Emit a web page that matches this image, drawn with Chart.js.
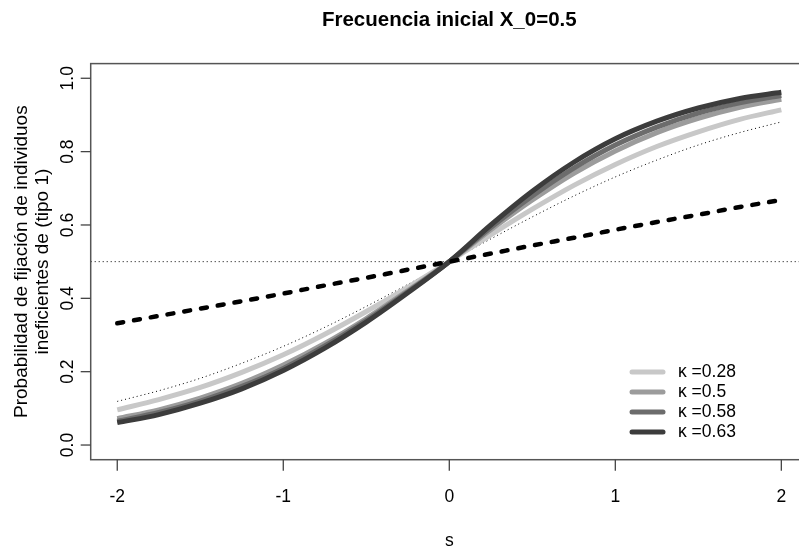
<!DOCTYPE html>
<html>
<head>
<meta charset="utf-8">
<script src="https://cdn.jsdelivr.net/npm/chart.js@4"></script>
<style>
  html, body { margin: 0; padding: 0; background: #fff; overflow: hidden; }
  #wrap { width: 810px; height: 556px; position: relative; }
</style>
</head>
<body>
<div id="wrap"><canvas id="c" width="810" height="556"></canvas></div>
<script>
// ---- data ----
const chartTitle = "Frecuencia inicial X_0=0.5";
const xTitle = "s";
const yTitleLines = ["Probabilidad de fijación de individuos", "ineficientes de (tipo 1)"];
const xTicks = [-2, -1, 0, 1, 2];
const yTicks = [0.0, 0.2, 0.4, 0.6, 0.8, 1.0];
const yTickLabels = ["0.0", "0.2", "0.4", "0.6", "0.8", "1.0"];

const sValues = [-2, -1.75, -1.5, -1.25, -1, -0.75, -0.5, -0.25, 0, 0.25, 0.5, 0.75, 1, 1.25, 1.5, 1.75, 2];

const kappaLabels = ["κ =0.28", "κ =0.5", "κ =0.58", "κ =0.63"];
const kappa028 = [0.096, 0.124, 0.157, 0.198, 0.246, 0.302, 0.364, 0.430, 0.5, 0.573, 0.643, 0.708, 0.765, 0.814, 0.854, 0.888, 0.914];
const kappa050 = [0.072, 0.096, 0.128, 0.168, 0.218, 0.277, 0.345, 0.421, 0.5, 0.587, 0.668, 0.741, 0.802, 0.852, 0.891, 0.921, 0.943];
const kappa058 = [0.065, 0.089, 0.120, 0.160, 0.209, 0.270, 0.340, 0.418, 0.5, 0.593, 0.679, 0.755, 0.818, 0.867, 0.905, 0.933, 0.953];
const kappa063 = [0.061, 0.083, 0.114, 0.153, 0.203, 0.264, 0.335, 0.415, 0.5, 0.600, 0.692, 0.771, 0.835, 0.883, 0.919, 0.945, 0.962];
const dottedCurve = [0.119, 0.148, 0.182, 0.223, 0.269, 0.321, 0.378, 0.438, 0.5, 0.562, 0.622, 0.679, 0.731, 0.777, 0.818, 0.852, 0.881];
const dashedCurve = [0.332, 0.352, 0.372, 0.392, 0.413, 0.435, 0.456, 0.478, 0.5, 0.522, 0.544, 0.565, 0.587, 0.608, 0.628, 0.649, 0.668];
const hLineX = [-2.16, 2.16];
const hLineY = [0.5, 0.5];

const kappaColors = ["#c8c8c8", "#9c9c9c", "#6c6c6c", "#3c3c3c"];

// ---- helpers ----
const pts = (xs, ys) => xs.map((x, i) => ({ x: x, y: ys[i] }));

const kappaSeries = [kappa028, kappa050, kappa058, kappa063];
const datasets = [];
kappaSeries.forEach((vals, i) => {
  datasets.push({
    label: kappaLabels[i],
    data: pts(sValues, vals),
    borderColor: kappaColors[i],
    borderWidth: 5,
    pointRadius: 0,
    cubicInterpolationMode: 'monotone',
    borderCapStyle: 'butt',
    order: 4 - i
  });
});
datasets.push({
  label: "dotted",
  data: pts(sValues, dottedCurve),
  borderColor: "#000",
  borderWidth: 1,
  borderDash: [1, 3],
  pointRadius: 0,
  cubicInterpolationMode: 'monotone',
  order: 6
});
datasets.push({
  label: "dashed",
  data: pts(sValues, dashedCurve),
  borderColor: "#000",
  borderWidth: 4.5,
  borderDash: [6, 11],
  borderCapStyle: 'round',
  pointRadius: 0,
  cubicInterpolationMode: 'monotone',
  order: 0
});
datasets.push({
  label: "hline",
  data: pts(hLineX, hLineY),
  borderColor: "#000",
  borderWidth: 1,
  borderDash: [1, 3],
  pointRadius: 0,
  order: 7
});

const FONT = '"Liberation Sans", Arial, Helvetica, sans-serif';

const rAxes = {
  id: 'rAxes',
  afterDraw(chart) {
    const ctx = chart.ctx;
    const a = chart.chartArea;
    const xs = chart.scales.x, ys = chart.scales.y;
    ctx.save();
    // box
    ctx.strokeStyle = "#555";
    ctx.lineWidth = 1.5;
    ctx.strokeRect(a.left, a.top, a.right - a.left, a.bottom - a.top);
    // x axis ticks
    ctx.strokeStyle = "#444";
    ctx.lineWidth = 1.3;
    ctx.fillStyle = "#000";
    ctx.font = "17.5px " + FONT;
    ctx.textAlign = "center";
    ctx.textBaseline = "middle";
    xTicks.forEach(v => {
      const px = xs.getPixelForValue(v);
      ctx.beginPath();
      ctx.moveTo(px, a.bottom);
      ctx.lineTo(px, a.bottom + 11);
      ctx.stroke();
      ctx.fillText(String(v), px, a.bottom + 37);
    });
    // y axis ticks
    yTicks.forEach((v, i) => {
      const py = ys.getPixelForValue(v);
      ctx.beginPath();
      ctx.moveTo(a.left, py);
      ctx.lineTo(a.left - 10, py);
      ctx.stroke();
      ctx.save();
      ctx.translate(a.left - 23, py);
      ctx.rotate(-Math.PI / 2);
      ctx.fillText(yTickLabels[i], 0, 0);
      ctx.restore();
    });
    // axis titles
    ctx.fillText(xTitle, xs.getPixelForValue(0), 541);
    ctx.font = "19px " + FONT;
    const yc = (a.top + a.bottom) / 2;
    [22, 43].forEach((px, i) => {
      ctx.save();
      ctx.translate(px, yc);
      ctx.rotate(-Math.PI / 2);
      ctx.fillText(yTitleLines[i], 0, 0);
      ctx.restore();
    });
    // title
    ctx.font = 'bold 20.5px ' + FONT;
    ctx.fillText(chartTitle, xs.getPixelForValue(0), 20);
    // legend
    ctx.font = "17.5px " + FONT;
    ctx.textAlign = "left";
    const rows = [372, 392, 412, 432];
    rows.forEach((ry, i) => {
      ctx.strokeStyle = kappaColors[i];
      ctx.lineWidth = 5;
      ctx.lineCap = "round";
      ctx.beginPath();
      ctx.moveTo(632, ry);
      ctx.lineTo(663, ry);
      ctx.stroke();
      ctx.fillText(kappaLabels[i], 678, ry);
    });
    ctx.restore();
  }
};

new Chart(document.getElementById('c'), {
  type: 'line',
  data: { datasets: datasets },
  options: {
    responsive: false,
    animation: false,
    layout: { padding: { left: 90.7, right: 2.1, top: 63.6, bottom: 96.3 } },
    plugins: { legend: { display: false }, title: { display: false }, tooltip: { enabled: false } },
    scales: {
      x: { type: 'linear', min: -2.16, max: 2.16, display: false },
      y: { type: 'linear', min: -0.04, max: 1.04, display: false }
    },
    elements: { line: { tension: 0 } }
  },
  plugins: [rAxes]
});
</script>
</body>
</html>
